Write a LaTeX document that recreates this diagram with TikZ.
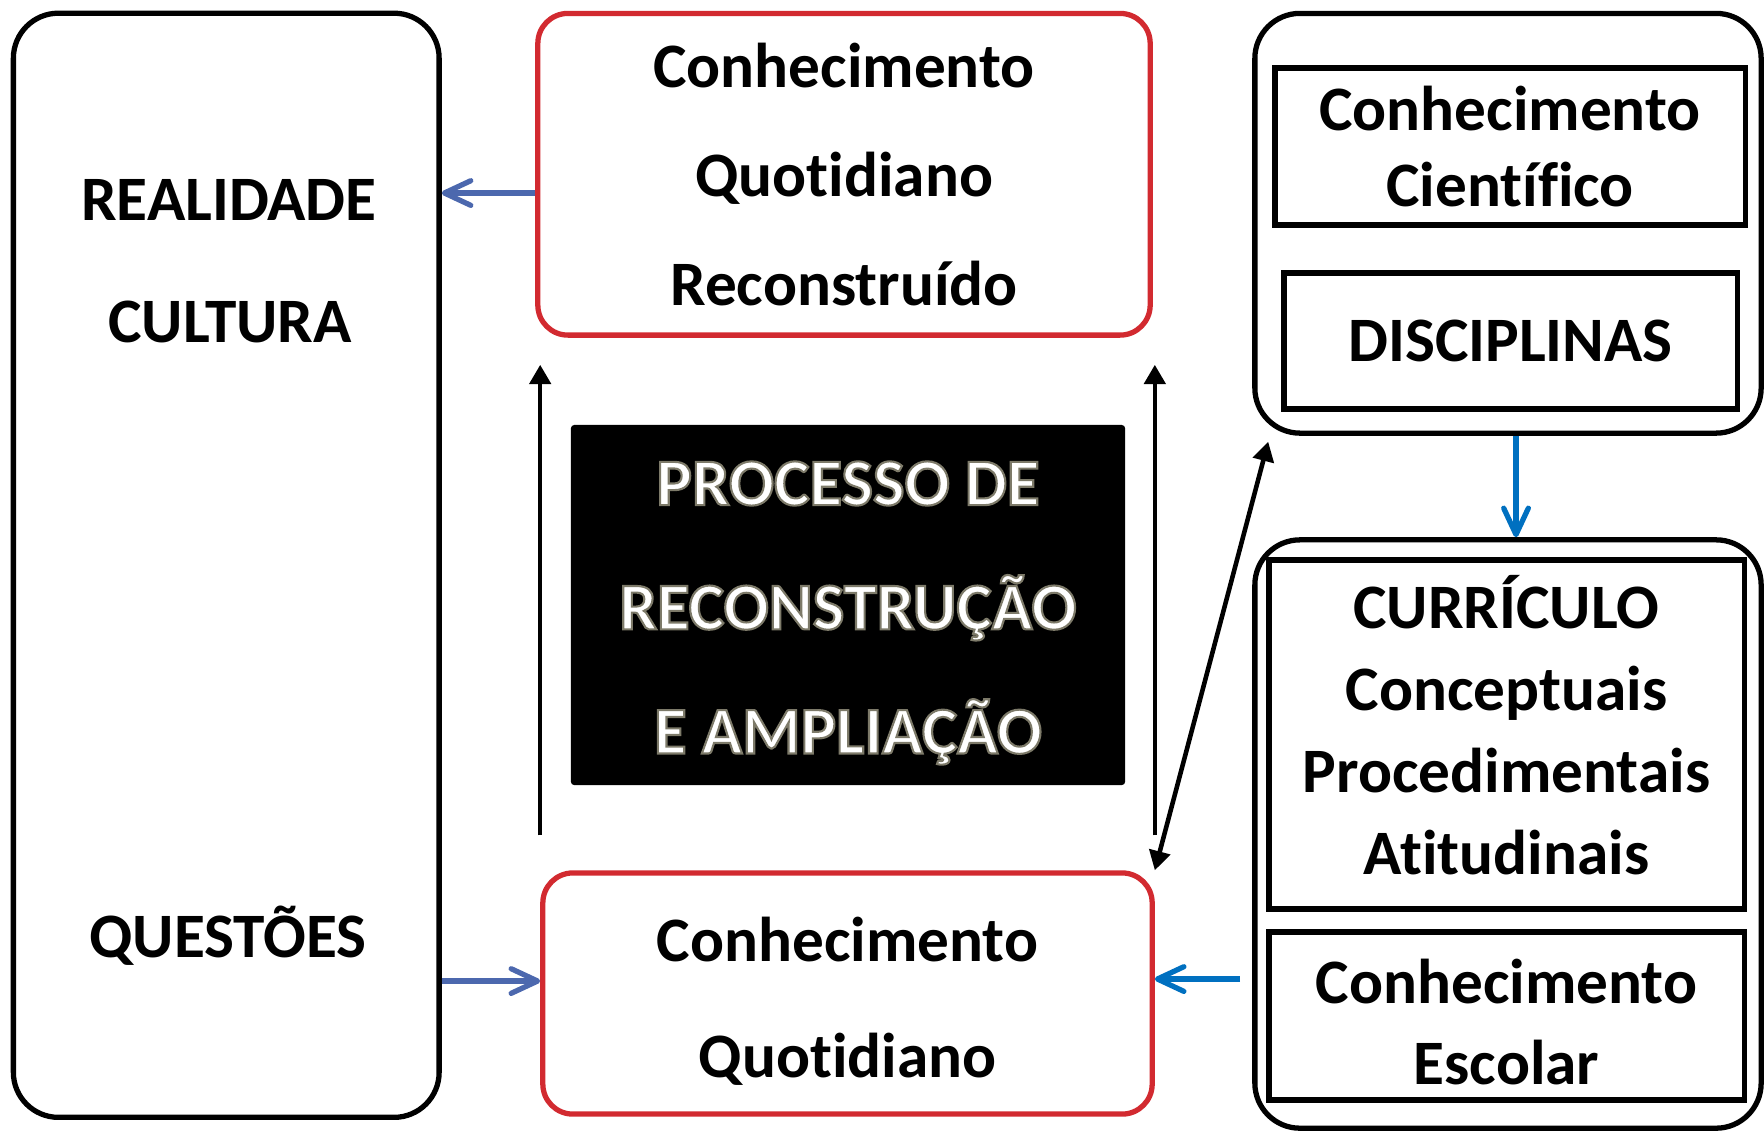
\documentclass[tikz,border=0pt]{standalone}
\usepackage{fontspec}
\setmainfont{Carlito}[Ligatures={NoCommon,NoRequired,NoContextual},Contextuals=NoAlternate]
\usetikzlibrary{arrows.meta,positioning}
\definecolor{boxred}{RGB}{210,42,48}
\definecolor{lineblue}{RGB}{76,104,174}
\definecolor{darkblue}{RGB}{0,112,192}
\newcommand{\glowed}[1]{\special{pdf:literal direct 2 Tr 0.6 w 0.49 0.48 0.41 RG}#1\special{pdf:literal direct 0 Tr}}

\begin{document}
\begin{tikzpicture}[
			x=0.01cm,y=-0.01cm,
			every node/.style={align=center,inner sep=0pt,font=\bfseries\fontsize{18}{22}\selectfont},
			spaced/.style={font=\bfseries\fontsize{18}{#1}\selectfont},
			bigbox/.style={draw,line width=1.5pt,rounded corners=0.45cm},
			redbox/.style={draw=boxred,line width=1.5pt,rounded corners=0.3cm},
			innerbox/.style={draw,line width=1.5pt},
			procbox/.style={fill=black,rounded corners=1pt},
			proctext/.style={text=white,font=\bfseries\fontsize{19}{35.3}\selectfont},
			bluearrow/.style={draw=lineblue,line width=1.5pt,-{Straight Barb[length=7.5pt,width=7pt,round]}},
			darkarrow/.style={draw=darkblue,line width=1.5pt,-{Straight Barb[length=7.5pt,width=7pt,round]}},
			blackarrow/.style={line width=1.3pt,-{Triangle[length=5.5pt,width=6pt]}},
		]
			\useasboundingbox (0,0) rectangle (1764,1132);

			\node[bigbox,minimum width=4.255cm,minimum height=11.035cm] (realbox) at (226.25,565.25) {};
			\node[anchor=base] (realidade) at (229,220) {REALIDADE};
			\node[anchor=base] (cultura) at (230,342) {CULTURA};
			\node[anchor=base] (questoes) at (228,957) {QUESTÕES};

			\node[redbox,spaced=31,minimum width=6.12cm,minimum height=3.215cm] (reconbox) at (844,174.25)
				{Conhecimento\\Quotidiano\\Reconstruído};
			\node[redbox,minimum width=6.09cm,minimum height=2.41cm] (quotbox) at (847.5,993.5) {};
			\node[spaced=33] (quottext) at ([yshift=-0.08cm]quotbox.center) {Conhecimento\\Quotidiano};
			\node[procbox,minimum width=5.54cm,minimum height=3.6cm] (procbox) at (848,605) {};
			\node[proctext] (proctext) at ([yshift=-0.08cm]procbox.center)
				{\glowed{PROCESSO DE\\RECONSTRUÇÃO\\E AMPLIAÇÃO}};

			\node[bigbox,minimum width=5.06cm,minimum height=4.195cm] (cientouter) at (1508,223.25) {};
			\node[innerbox,spaced=21.6,minimum width=4.70cm,minimum height=1.57cm] (cientbox) at (1510,146.5)
				{Conhecimento\\Científico};
			\node[innerbox,minimum width=4.53cm,minimum height=1.36cm] (discbox) at (1510.5,341) {DISCIPLINAS};

			\node[bigbox,minimum width=5.06cm,minimum height=5.88cm] (curouter) at (1508,834) {};
			\node[innerbox,minimum width=4.75cm,minimum height=3.49cm] (curbox) at (1506.5,734.5) {};
			\node[spaced=23.3] (curtext) at ([yshift=0.09cm]curbox.center)
				{CURRÍCULO\\Conceptuais\\Procedimentais\\Atitudinais};
			\node[innerbox,minimum width=4.75cm,minimum height=1.68cm] (escbox) at (1506.5,1016) {};
			\node[spaced=23.3] (esctext) at ([yshift=-0.06cm]escbox.center) {Conhecimento\\Escolar};

			\coordinate (escin) at (1240,979);
			\draw[bluearrow] (reconbox.west |- 0,193) -- (realbox.east |- 0,193);
			\draw[bluearrow] (realbox.east |- 0,981) -- (quotbox.west |- 0,981);
			\draw[darkarrow] (escin) -- (quotbox.east |- escin);
			\draw[darkarrow] (cientouter.south -| 1516,0) -- (curouter.north -| 1516,0);
			\draw[blackarrow,shorten <=0.35cm,shorten >=0.27cm] (quotbox.north west) -- (quotbox.north west |- reconbox.south);
			\draw[blackarrow,shorten <=0.35cm,shorten >=0.27cm] (quotbox.north east) -- (quotbox.north east |- reconbox.south);
			\draw[blackarrow,{Triangle[length=5.5pt,width=6pt]}-{Triangle[length=5.5pt,width=6pt]}] (quotbox.north east) -- ([xshift=0.16cm,yshift=-0.06cm]cientouter.south west);
		\end{tikzpicture}
\end{document}
